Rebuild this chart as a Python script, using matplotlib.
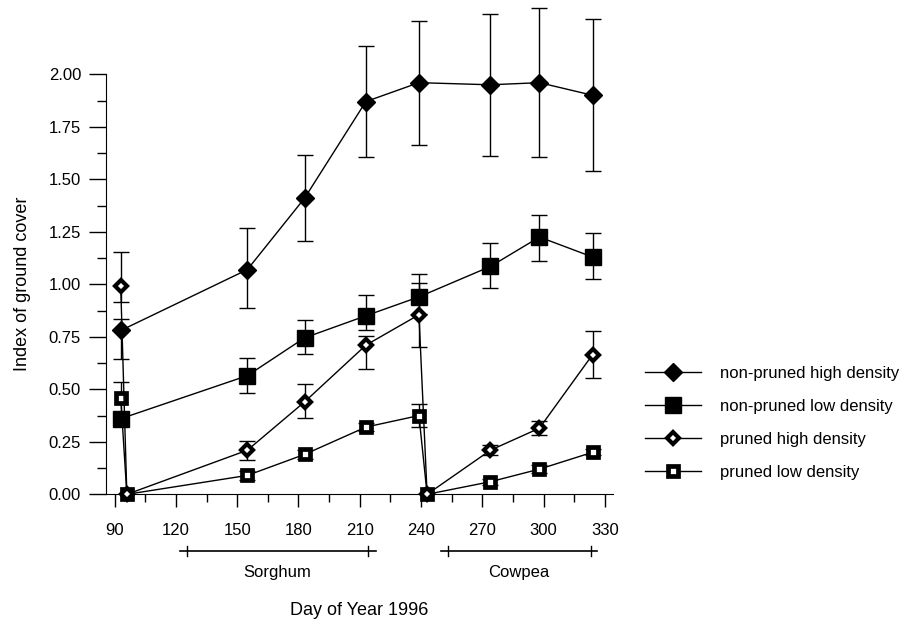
import matplotlib
matplotlib.use("Agg")
import matplotlib.pyplot as plt
from matplotlib.lines import Line2D
from matplotlib.ticker import MultipleLocator, FormatStrFormatter
import matplotlib.transforms as mtransforms

plt.rcParams['font.family'] = ['Liberation Sans', 'DejaVu Sans']

# dates (day of year) for non-pruned and pruned treatments
days_np = [93, 155, 183, 213, 239, 274, 298, 324]
days_p = [93, 96, 155, 183, 213, 239, 243, 274, 298, 324]

# non-pruned high density
nph = [0.78, 1.07, 1.41, 1.87, 1.96, 1.95, 1.96, 1.90]
nph_lo = [0.644, 0.889, 1.206, 1.605, 1.663, 1.612, 1.608, 1.541]
nph_hi = [0.835, 1.268, 1.616, 2.136, 2.255, 2.287, 2.314, 2.262]

# non-pruned low density
npl = [0.36, 0.565, 0.745, 0.85, 0.94, 1.085, 1.225, 1.13]
npl_lo = [0.33, 0.484, 0.668, 0.78, 0.86, 0.981, 1.112, 1.024]
npl_hi = [0.39, 0.65, 0.83, 0.949, 1.049, 1.195, 1.33, 1.243]

# pruned high density
ph = [0.99, 0.0, 0.21, 0.44, 0.71, 0.855, 0.0, 0.21, 0.315, 0.665]
ph_lo = [0.914, 0.0, 0.163, 0.365, 0.598, 0.703, 0.0, 0.187, 0.281, 0.552]
ph_hi = [1.152, 0.0, 0.255, 0.525, 0.755, 1.008, 0.0, 0.235, 0.349, 0.779]

# pruned low density
pl = [0.46, 0.0, 0.09, 0.19, 0.32, 0.375, 0.0, 0.06, 0.12, 0.20]
pl_lo = [0.38, 0.0, 0.07, 0.17, 0.30, 0.322, 0.0, 0.045, 0.10, 0.185]
pl_hi = [0.536, 0.0, 0.11, 0.21, 0.34, 0.43, 0.0, 0.075, 0.14, 0.215]

labels = ["non-pruned high density", "non-pruned low density",
          "pruned high density", "pruned low density"]

# crop periods under the x axis: (line start, tick, tick, line end)
sorghum = [122, 125.4, 213.9, 218]
cowpea = [250, 253, 323, 326]

fig = plt.figure(figsize=(9, 6.21), dpi=100)
ax = fig.add_axes([0.1178, 0.204, 0.5633, 0.6764])

styles = [
    dict(marker='D', ms=9, mfc='black', mec='black', mew=1),
    dict(marker='s', ms=12, mfc='black', mec='black', mew=1),
    dict(marker='D', ms=6.3, mfc='white', mec='black', mew=3.0),
    dict(marker='s', ms=7.5, mfc='white', mec='black', mew=3.4),
]
zorders = [3, 3, 4, 3]
series = [(days_np, nph, nph_lo, nph_hi),
          (days_np, npl, npl_lo, npl_hi),
          (days_p, ph, ph_lo, ph_hi),
          (days_p, pl, pl_lo, pl_hi)]

for (x, y, lo, hi), st, z in zip(series, styles, zorders):
    # error bars only where there is a spread
    ex, ey, el, eh = [], [], [], []
    for xi, yi, li, hi_ in zip(x, y, lo, hi):
        if hi_ > li:
            ex.append(xi)
            ey.append(yi)
            el.append(yi - li)
            eh.append(hi_ - yi)
    eb = ax.errorbar(ex, ey, yerr=[el, eh], fmt='none', ecolor='black',
                     elinewidth=1, capsize=6, capthick=1, zorder=2)
    for art in list(eb.lines[1]) + list(eb.lines[2]):
        art.set_clip_on(False)
    ax.plot(x, y, color='black', lw=1, zorder=z, clip_on=False, **st)

ax.set_xlim(85.8, 334)
ax.set_ylim(0, 2.0)
ax.spines['top'].set_visible(False)
ax.spines['right'].set_visible(False)

ax.xaxis.set_major_locator(MultipleLocator(30))
ax.xaxis.set_minor_locator(MultipleLocator(15))
ax.yaxis.set_major_locator(MultipleLocator(0.25))
ax.yaxis.set_minor_locator(MultipleLocator(0.125))
ax.yaxis.set_major_formatter(FormatStrFormatter('%.2f'))
ax.set_xticks([90, 120, 150, 180, 210, 240, 270, 300, 330])

ax.tick_params(axis='x', which='major', direction='out', length=9.5, width=1, pad=11.5, labelsize=12)
ax.tick_params(axis='x', which='minor', direction='out', length=6, width=1)
ax.tick_params(axis='y', which='major', direction='out', length=12, width=1, pad=6, labelsize=12)
ax.tick_params(axis='y', which='minor', direction='out', length=6.5, width=1)

ax.set_ylabel("Index of ground cover", fontsize=13)
ax.yaxis.set_label_coords(-0.148, 0.5)

trans = mtransforms.blended_transform_factory(ax.transData, ax.transAxes)
for per, name in [(sorghum, "Sorghum"), (cowpea, "Cowpea")]:
    ax.plot([per[0], per[3]], [-0.136, -0.136], color='black', lw=1.2,
            transform=trans, clip_on=False)
    for t in (per[1], per[2]):
        ax.plot([t, t], [-0.148, -0.124], color='black', lw=1,
                transform=trans, clip_on=False)
    ax.text((per[1] + per[2]) / 2, -0.187, name, transform=trans,
            ha='center', va='center', fontsize=12)

ax.text(0.5, -0.276, "Day of Year 1996", transform=ax.transAxes,
        ha='center', va='center', fontsize=13)

handles = [Line2D([], [], color='black', lw=1, **st) for st in styles]
fig.legend(handles, labels, loc='upper left', bbox_to_anchor=(0.717, 0.4105),
           frameon=False, borderpad=0, borderaxespad=0, handlelength=3.35,
           handletextpad=1.15, labelspacing=1.08, numpoints=1, fontsize=12)

fig.savefig("out.png", dpi=100)
